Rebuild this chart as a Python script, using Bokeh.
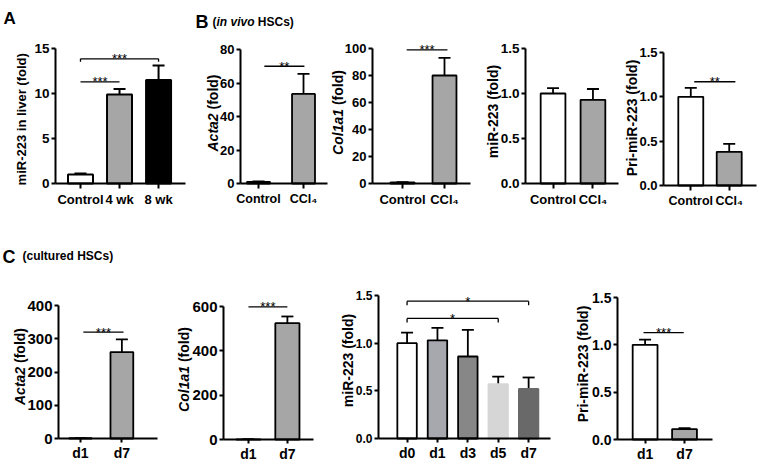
import math
from bokeh.plotting import figure
from bokeh.models import (Range1d, FixedTicker, ColumnDataSource, Whisker, TeeHead,
                          Label, LabelSet, PrintfTickFormatter)
from bokeh.layouts import column, row
from bokeh.core.properties import value
from bokeh.embed import file_html
from bokeh.resources import INLINE

FONT = "Liberation Sans"

# ---------------- data ----------------
a_groups = ["Control", "4 wk", "8 wk"]
a_mean = [1.0, 9.9, 11.5]
a_sem = [0.1, 0.6, 1.6]

b_groups = ["Control", "CCl\u2084"]
b_acta2_mean = [1.0, 53.5]
b_acta2_sem = [0.2, 12.0]
b_col1a1_mean = [0.8, 80.0]
b_col1a1_sem = [0.2, 13.0]
b_mir_mean = [1.0, 0.93]
b_mir_sem = [0.06, 0.12]
b_pri_mean = [1.0, 0.38]
b_pri_sem = [0.10, 0.09]

c_groups2 = ["d1", "d7"]
c_acta2_mean = [1.0, 260.0]
c_acta2_sem = [0.3, 38.0]
c_col1a1_mean = [1.0, 525.0]
c_col1a1_sem = [0.3, 30.0]
c_groups5 = ["d0", "d1", "d3", "d5", "d7"]
c_mir_mean = [1.0, 1.03, 0.86, 0.57, 0.52]
c_mir_sem = [0.11, 0.13, 0.28, 0.08, 0.12]
c_pri_mean = [1.0, 0.11]
c_pri_sem = [0.056, 0.01]

# significance: (group i, group j, bracket height, label, end ticks)
a_sig = [(0, 1, 11.3, "***", False), (0, 2, 13.85, "***", True)]
b_acta2_sig = [(0, 1, 70, "**", False)]
b_col1a1_sig = [(0, 1, 99, "***", False)]
b_mir_sig = []
b_pri_sig = [(0, 1, 1.17, "**", False)]
c_acta2_sig = [(0, 1, 320, "***", False)]
c_col1a1_sig = [(0, 1, 598, "***", False)]
c_mir_sig = [(0, 3, 1.26, "*", True), (0, 4, 1.44, "*", True)]
c_pri_sig = [(0, 1, 1.13, "***", False)]

# Arial/Liberation bold advance widths (1/1000 em)
W = {"A": 722, "C": 722, "P": 667, "R": 722, "H": 722, "S": 667, "B": 722,
     "a": 556, "c": 556, "d": 611, "e": 556, "f": 333, "i": 278, "l": 278, "m": 889,
     "n": 611, "o": 611, "r": 389, "s": 556, "t": 333, "u": 611, "v": 556,
     " ": 278, "(": 333, ")": 333, "-": 333, ".": 278}


def text_w(s, fs):
    return sum(W.get(ch, 556) for ch in s) / 1000 * fs


def make_panel(groups, mean, sem, sig, *, fills, lines=None, ytop, yticks, yfmt=None,
               width, height, ax, ae, y0, yt, xlo, xhi, barw, cap=12, lw=1.8,
               ytick_fs="13px", xtick_fs="12.5px", sig_dx=(0, 0), tick_px=4,
               star_fs="13px", xtick_out=5, xstand=3):
    # frame covers the whole canvas; axes are drawn at fixed data locations
    u = (ae - ax) / (xhi - xlo)
    s = (y0 - yt) / ytop
    x_range = Range1d(xlo - ax / u, xhi + (width - ae) / u)
    y_range = Range1d(-(height - y0) / s, ytop + yt / s)
    xs = list(range(len(groups)))
    p = figure(width=width, height=height, output_backend="svg", toolbar_location=None,
               tools="", x_range=x_range, y_range=y_range, min_border=0)
    p.outline_line_color = None
    p.xgrid.visible = False
    p.ygrid.visible = False
    src = ColumnDataSource(dict(x=xs, top=mean,
                                upper=[m + e for m, e in zip(mean, sem)],
                                fill=fills, line=lines or ["black"] * len(xs)))
    p.vbar(x="x", top="top", bottom=0, width=barw, fill_color="fill",
           line_color="line", line_width=lw, source=src)
    p.add_layout(Whisker(source=src, base="x", lower="top", upper="upper",
                         dimension="height", line_color="black", line_width=lw,
                         lower_head=None,
                         upper_head=TeeHead(size=cap, line_color="black", line_width=lw)))
    dy = tick_px / s
    x0s, y0s, x1s, y1s = [], [], [], []
    lx, ly, lt = [], [], []
    for i, j, h, t, ticks in sig:
        a = i + sig_dx[0]
        b = j + sig_dx[1]
        x0s.append(a); x1s.append(b); y0s.append(h); y1s.append(h)
        if ticks:
            for xx in (a, b):
                x0s.append(xx); x1s.append(xx); y0s.append(h); y1s.append(h - dy)
        lx.append((a + b) / 2); ly.append(h); lt.append(t)
    if sig:
        p.segment(x0=x0s, y0=y0s, x1=x1s, y1=y1s, line_color="black", line_width=1.3)
        p.add_layout(LabelSet(source=ColumnDataSource(dict(x=lx, y=ly, t=lt)),
                              x="x", y="y", text="t", text_align="center",
                              text_baseline="middle", text_font=value(FONT),
                              text_font_size=value(star_fs), text_color="black"))
    xa, ya = p.xaxis[0], p.yaxis[0]
    xa.fixed_location = 0
    xa.bounds = (xlo, xhi)
    ya.fixed_location = xlo
    ya.bounds = (0, ytop)
    xa.ticker = FixedTicker(ticks=xs)
    xa.major_label_overrides = {x: g for x, g in zip(xs, groups)}
    ya.ticker = FixedTicker(ticks=yticks)
    if yfmt:
        ya.formatter = PrintfTickFormatter(format=yfmt)
    for axis, fs, out, st in ((xa, xtick_fs, xtick_out, xstand), (ya, ytick_fs, 4, 2)):
        axis.axis_line_width = 2
        axis.axis_line_color = "black"
        axis.major_tick_line_width = 2
        axis.major_tick_line_color = "black"
        axis.major_tick_in = 0
        axis.major_tick_out = out
        axis.minor_tick_line_color = None
        axis.major_label_text_font = FONT
        axis.major_label_text_font_style = "bold"
        axis.major_label_text_font_size = fs
        axis.major_label_text_color = "black"
        axis.major_label_standoff = st
    return p


def ytitle(p, parts, cx, cy, fs):
    # parts: (text, style, space_after)
    def adv(t, sp):
        return text_w(t, fs) + (text_w(" ", fs) if sp else 0)
    total = sum(adv(t, sp) for t, _, sp in parts)
    y = cy - total / 2
    for t, style, sp in parts:
        p.add_layout(Label(x=cx, y=y, x_units="screen", y_units="screen", text=t,
                           angle=math.pi / 2, text_align="left", text_baseline="middle",
                           text_font=FONT, text_font_size=f"{fs}px",
                           text_font_style=style, text_color="black"))
        y += adv(t, sp)


def header(p, parts, x, y):
    # parts: (text, size, style, space_after)
    for t, fs, style, sp in parts:
        p.add_layout(Label(x=x, y=y, x_units="screen", y_units="screen", text=t,
                           text_align="left", text_baseline="alphabetic",
                           text_font=FONT, text_font_size=f"{fs}px",
                           text_font_style=style, text_color="black"))
        x += text_w(t, fs) + (text_w(" ", fs) if sp else 0)


GRAY = "#a6a6a6"
TOP_H = 223
BOT_H = 241

pA = make_panel(a_groups, a_mean, a_sem, a_sig, fills=["white", GRAY, "black"],
                ytop=15, yticks=[0, 5, 10, 15], width=190, height=TOP_H,
                ax=55, ae=185, y0=183, yt=48, xlo=-0.64, xhi=2.69, barw=0.64,
                cap=12, lw=2, tick_px=3, xtick_fs="13px", ytick_fs="13.5px")
ytitle(pA, [("miR-223 in liver  (fold)", "bold", False)], 20.5, 106, 13)
header(pA, [("A", 17, "bold", False)], 3, 205)

pB1 = make_panel(b_groups, b_acta2_mean, b_acta2_sem, b_acta2_sig, fills=["white", GRAY],
                 ytop=80, yticks=[0, 20, 40, 60, 80], width=138, height=TOP_H,
                 ax=50, ae=137, y0=183, yt=49, xlo=-0.4, xhi=1.533, barw=0.51,
                 sig_dx=(0.13, 0.02))
ytitle(pB1, [("Acta2", "bold italic", True), ("(fold)", "bold", False)], 22, 110.5, 14)
header(pB1, [("B", 18, "bold", False)], 5, 202)
header(pB1, [("(", 12, "bold", False), ("in vivo", 12, "bold italic", True),
             ("HSCs)", 12, "bold", False)], 22, 202)

pB2 = make_panel(b_groups, b_col1a1_mean, b_col1a1_sem, b_col1a1_sig, fills=["white", GRAY],
                 ytop=100, yticks=[0, 20, 40, 60, 80, 100], width=152, height=TOP_H,
                 ax=44, ae=142, y0=183, yt=48, xlo=-0.714, xhi=1.619, barw=0.57,
                 sig_dx=(0.1, 0.07), xtick_fs="13px")
ytitle(pB2, [("Col1a1", "bold italic", True), ("(fold)", "bold", False)], 9, 111, 14)

pB3 = make_panel(b_groups, b_mir_mean, b_mir_sem, b_mir_sig, fills=["white", GRAY],
                 ytop=1.5, yticks=[0, 0.5, 1.0, 1.5], yfmt="%.1f", width=142, height=TOP_H,
                 ax=45, ae=138, y0=183, yt=48, xlo=-0.69, xhi=1.64, barw=0.62,
                 xtick_fs="13px", ytick_fs="13.5px")
ytitle(pB3, [("miR-223 (fold)", "bold", False)], 12, 112, 14)

pB4 = make_panel(b_groups, b_pri_mean, b_pri_sem, b_pri_sig, fills=["white", GRAY],
                 ytop=1.5, yticks=[0, 0.5, 1.0, 1.5], yfmt="%.1f", width=136, height=TOP_H,
                 ax=41, ae=134, y0=185, yt=52, xlo=-0.71, xhi=1.71, barw=0.65,
                 sig_dx=(0.09, 0.16))
ytitle(pB4, [("Pri-miR-223 (fold)", "bold", False)], 9, 105.5, 14)

pC1 = make_panel(c_groups2, c_acta2_mean, c_acta2_sem, c_acta2_sig, fills=["white", GRAY],
                 ytop=400, yticks=[0, 100, 200, 300, 400], width=170, height=BOT_H,
                 ax=58, ae=157, y0=215, yt=82, xlo=-0.53, xhi=1.86, barw=0.55,
                 ytick_fs="15px", xtick_fs="14px", xtick_out=4, xstand=2,
                 sig_dx=(0.07, 0.04))
ytitle(pC1, [("Acta2", "bold italic", True), ("(fold)", "bold", False)], 19, 98, 14)
header(pC1, [("C", 18, "bold", False)], 2, 208)
header(pC1, [("(cultured HSCs)", 12, "bold", False)], 22, 209)

pC2 = make_panel(c_groups2, c_col1a1_mean, c_col1a1_sem, c_col1a1_sig, fills=["white", GRAY],
                 ytop=600, yticks=[0, 200, 400, 600], width=170, height=BOT_H,
                 ax=53, ae=143, y0=216, yt=83, xlo=-0.64, xhi=1.67, barw=0.62,
                 ytick_fs="15px", xtick_fs="14px", xtick_out=4, xstand=2)
ytitle(pC2, [("Col1a1", "bold italic", True), ("(fold)", "bold", False)], 13, 95, 14)

pC3 = make_panel(c_groups5, c_mir_mean, c_mir_sem, c_mir_sig,
                 fills=["white", "#a7a7ae", "#878787", "#d6d6d6", "#696969"],
                 lines=["black", "black", "black", "#d6d6d6", "#696969"],
                 ytop=1.5, yticks=[0, 0.5, 1.0, 1.5], yfmt="%.1f", width=225, height=BOT_H,
                 ax=38, ae=210, y0=215, yt=72, xlo=-0.94, xhi=4.72, barw=0.64,
                 ytick_fs="12px", xtick_fs="14px", xtick_out=4, xstand=2)
ytitle(pC3, [("miR-223 (fold)", "bold", False)], 7, 104, 14)

pC4 = make_panel(c_groups2, c_pri_mean, c_pri_sem, c_pri_sig, fills=["white", GRAY],
                 ytop=1.5, yticks=[0, 0.5, 1.0, 1.5], yfmt="%.1f", width=193, height=BOT_H,
                 ax=52, ae=147, y0=216, yt=74, xlo=-0.70, xhi=1.71, barw=0.63,
                 ytick_fs="14px", xtick_fs="14px", xtick_out=4, xstand=2,
                 sig_dx=(-0.04, -0.02))
ytitle(pC4, [("Pri-miR-223 (fold)", "bold", False)], 17, 100.5, 14)

layout = column(row(pA, pB1, pB2, pB3, pB4), row(pC1, pC2, pC3, pC4))

open("out.html", "w").write(file_html(layout, INLINE))
